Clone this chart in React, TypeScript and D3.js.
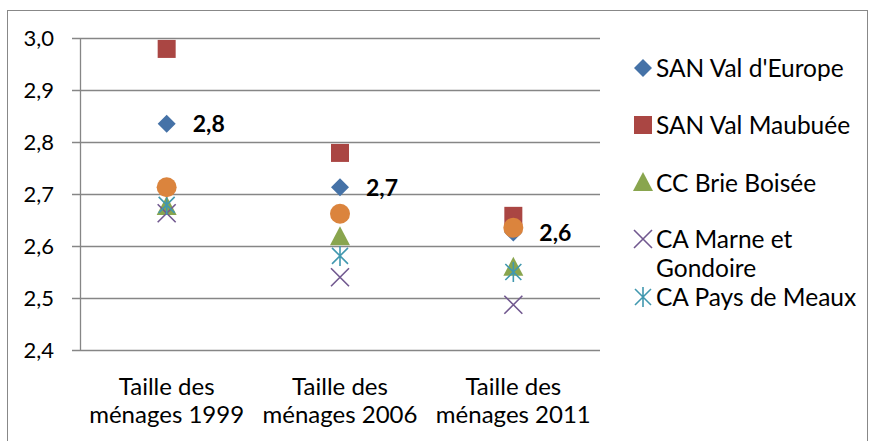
import React from "react";
import * as d3 from "d3";

const categories = ["Taille des ménages 1999", "Taille des ménages 2006", "Taille des ménages 2011"];
const categoryLines = [["Taille des", "ménages 1999"], ["Taille des", "ménages 2006"], ["Taille des", "ménages 2011"]];
const yTicks = [2.4, 2.5, 2.6, 2.7, 2.8, 2.9, 3.0];

const valEurope = [2.835, 2.713, 2.626];
const valMaubuee = [2.979, 2.779, 2.658];
const brieBoisee = [2.675, 2.617, 2.558];
const marneGondoire = [2.663, 2.54, 2.487];
const paysMeaux = [2.679, 2.581, 2.55];
const orangeSeries = [2.713, 2.662, 2.635];
const labelValues = ["2,8", "2,7", "2,6"];

const FONT = "Lato, 'Open Sans', sans-serif";

type Shape = "diamond" | "square" | "triangle" | "x" | "star" | "circle";

function Marker({ shape, x, y, color }: { shape: Shape; x: number; y: number; color: string }) {
  const s = 9;
  if (shape === "diamond") return <path d={`M${x},${y - s} L${x + s},${y} L${x},${y + s} L${x - s},${y} Z`} fill={color} />;
  if (shape === "square") return <rect x={x - 9} y={y - 9} width={18} height={18} fill={color} />;
  if (shape === "triangle") return <path d={`M${x},${y - 11} L${x + 10},${y + 8} L${x - 10},${y + 8} Z`} fill={color} />;
  if (shape === "circle") return <circle cx={x} cy={y} r={10} fill={color} />;
  if (shape === "x")
    return <path d={`M${x - 9},${y - 9} L${x + 9},${y + 9} M${x + 9},${y - 9} L${x - 9},${y + 9}`} stroke={color} strokeWidth={1.6} fill="none" />;
  return (
    <path
      d={`M${x - 8},${y - 8} L${x + 8},${y + 8} M${x + 8},${y - 8} L${x - 8},${y + 8} M${x},${y - 10} L${x},${y + 10}`}
      stroke={color}
      strokeWidth={1.6}
      fill="none"
    />
  );
}

const series: { name: string; values: number[]; color: string; shape: Shape; legend: boolean }[] = [
  { name: "SAN Val d'Europe", values: valEurope, color: "#4572A7", shape: "diamond", legend: true },
  { name: "SAN Val Maubuée", values: valMaubuee, color: "#AA4643", shape: "square", legend: true },
  { name: "CC Brie Boisée", values: brieBoisee, color: "#89A54E", shape: "triangle", legend: true },
  { name: "CA Marne et Gondoire", values: marneGondoire, color: "#71588F", shape: "x", legend: true },
  { name: "CA Pays de Meaux", values: paysMeaux, color: "#4198AF", shape: "star", legend: true },
  { name: "", values: orangeSeries, color: "#DB843D", shape: "circle", legend: false },
];

export default function App() {
  const W = 872, H = 441;
  const x = d3.scaleBand<string>().domain(categories).range([80, 600]);
  const y = d3.scaleLinear().domain([2.4, 3.0]).range([350, 38]);
  const legendRows = [68, 125, 183, 239, 297];
  const legendLabels = [["SAN Val d'Europe"], ["SAN Val Maubuée"], ["CC Brie Boisée"], ["CA Marne et", "Gondoire"], ["CA Pays de Meaux"]];
  return (
    <svg width={W} height={H} style={{ position: "absolute", left: 0, top: 0 }}>
      <rect x={0} y={0} width={W} height={H} fill="#fff" />
      <rect x={7.5} y={10.5} width={860} height={440} fill="none" stroke="#888" strokeWidth={1} />
      {yTicks.map((t) => (
        <g key={t}>
          <line x1={72} x2={600} y1={Math.round(y(t)) + 0.5} y2={Math.round(y(t)) + 0.5} stroke="#868686" strokeWidth={1.3} />
          <text x={54} y={y(t)} dy="0.36em" textAnchor="end" fontSize={22} fontFamily={FONT} fill="#000">
            {d3.format(".1f")(t).replace(".", ",")}
          </text>
        </g>
      ))}
      <line x1={80.5} x2={80.5} y1={38} y2={350} stroke="#868686" strokeWidth={1.3} />
      {categories.map((c, i) => (
        <text key={c} x={(x(c) as number) + x.bandwidth() / 2} textAnchor="middle" fontSize={24} fontFamily={FONT} fill="#000">
          <tspan x={(x(c) as number) + x.bandwidth() / 2} y={395}>{categoryLines[i][0]}</tspan>
          <tspan x={(x(c) as number) + x.bandwidth() / 2} y={423}>{categoryLines[i][1]}</tspan>
        </text>
      ))}
      {series.map((s) =>
        s.values.map((v, i) => (
          <Marker key={s.name + i} shape={s.shape} x={(x(categories[i]) as number) + x.bandwidth() / 2} y={y(v)} color={s.color} />
        ))
      )}
      {valEurope.map((v, i) => (
        <text key={"l" + i} x={(x(categories[i]) as number) + x.bandwidth() / 2 + 26} y={y(v)} dy="0.36em" fontSize={23} fontWeight="bold" fontFamily={FONT} fill="#000">
          {labelValues[i]}
        </text>
      ))}
      {series.filter((s) => s.legend).map((s, i) => (
        <g key={s.name}>
          <Marker shape={s.shape} x={643} y={legendRows[i]} color={s.color} />
          <text x={656} y={legendRows[i]} fontSize={24.5} fontFamily={FONT} fill="#000">
            {legendLabels[i].map((l, j) => (
              <tspan key={j} x={656} dy={j === 0 ? "0.36em" : 29}>{l}</tspan>
            ))}
          </text>
        </g>
      ))}
    </svg>
  );
}
